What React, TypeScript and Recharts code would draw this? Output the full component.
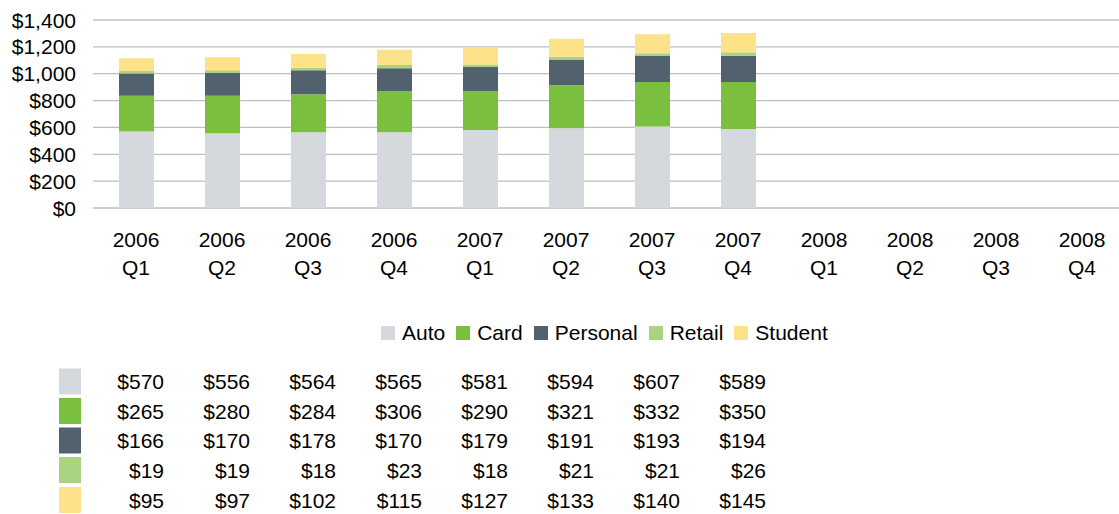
import React from "react";
import { BarChart, Bar, XAxis, YAxis, CartesianGrid, Legend } from "recharts";

const categories = [
  "2006 Q1", "2006 Q2", "2006 Q3", "2006 Q4",
  "2007 Q1", "2007 Q2", "2007 Q3", "2007 Q4",
  "2008 Q1", "2008 Q2", "2008 Q3", "2008 Q4",
];
const auto = [570, 556, 564, 565, 581, 594, 607, 589, null, null, null, null];
const card = [265, 280, 284, 306, 290, 321, 332, 350, null, null, null, null];
const personal = [166, 170, 178, 170, 179, 191, 193, 194, null, null, null, null];
const retail = [19, 19, 18, 23, 18, 21, 21, 26, null, null, null, null];
const student = [95, 97, 102, 115, 127, 133, 140, 145, null, null, null, null];
const yTicks = [0, 200, 400, 600, 800, 1000, 1200, 1400];

const seriesNames = ["Auto", "Card", "Personal", "Retail", "Student"];
const seriesValues = [auto, card, personal, retail, student];
const seriesColors = ["#d5d8dc", "#7bbf3f", "#52616e", "#a9d37f", "#fde28a"];

const data = categories.map((c, i) => ({
  name: c,
  Auto: auto[i],
  Card: card[i],
  Personal: personal[i],
  Retail: retail[i],
  Student: student[i],
}));

const FONT = "'Liberation Sans', Arial, sans-serif";
const FS = 21;

const fmt = (v: number) => "$" + v.toLocaleString("en-US");

const rowCenters = [381.5, 411, 440.5, 470, 500];

const XTick = (props: any) => {
  const { x, payload, index } = props;
  const [year, q] = String(payload.value).split(" ");
  const axisY = 208;
  return (
    <g fontFamily={FONT} fontSize={FS} fill="#000">
      <text x={x} y={axisY + 38.5} textAnchor="middle" fill="#000">{year}</text>
      <text x={x} y={axisY + 67} textAnchor="middle" fill="#000">{q}</text>
      {index === 0 &&
        seriesColors.map((c, r) => (
          <rect key={"sw" + r} x={x - 77} y={rowCenters[r] - 13} width={22} height={26} fill={c} />
        ))}
      {seriesValues.map((vals, r) =>
        vals[index] != null ? (
          <text key={"v" + r} x={x + 28} y={rowCenters[r] + 7.5} textAnchor="end" fill="#000">
            {fmt(vals[index] as number)}
          </text>
        ) : null
      )}
    </g>
  );
};

const YTick = (props: any) => {
  const { x, y, payload } = props;
  return (
    <text x={x - 17} y={y + 7.5} textAnchor="end" fontFamily={FONT} fontSize={FS} fill="#000">
      {fmt(payload.value)}
    </text>
  );
};

const LegendContent = () => (
  <div style={{ display: "flex", alignItems: "center", height: 26, fontFamily: FONT, fontSize: FS, color: "#000" }}>
    {seriesNames.map((n, i) => (
      <div key={n} style={{ display: "flex", alignItems: "center", marginRight: 11 }}>
        <span style={{ display: "inline-block", width: 14, height: 14, background: seriesColors[i], marginRight: 7 }} />
        <span>{n}</span>
      </div>
    ))}
  </div>
);

export default function App() {
  return (
    <div style={{ position: "absolute", left: 0, top: 0, width: 1119, height: 514, overflow: "hidden", background: "#fff" }}>
      <BarChart
        width={1125}
        height={514}
        data={data}
        margin={{ top: 20, right: 0, left: 0, bottom: 0 }}
        barSize={35}
      >
        <CartesianGrid vertical={false} stroke="#bfbfbf" strokeWidth={1.3} />
        <XAxis
          dataKey="name"
          height={280}
          axisLine={false}
          tickLine={false}
          tickSize={0}
          tickMargin={0}
          interval={0}
          tick={<XTick />}
        />
        <YAxis
          width={93}
          domain={[0, 1400]}
          ticks={yTicks}
          axisLine={false}
          tickLine={false}
          tickSize={0}
          tickMargin={0}
          interval={0}
          tick={<YTick />}
        />
        <Legend
          content={<LegendContent />}
          wrapperStyle={{ position: "absolute", top: 320, left: 381, width: 720, height: 26, bottom: "auto" }}
        />
        {seriesNames.map((n, i) => (
          <Bar key={n} dataKey={n} stackId="a" fill={seriesColors[i]} isAnimationActive={false} />
        ))}
      </BarChart>
    </div>
  );
}
